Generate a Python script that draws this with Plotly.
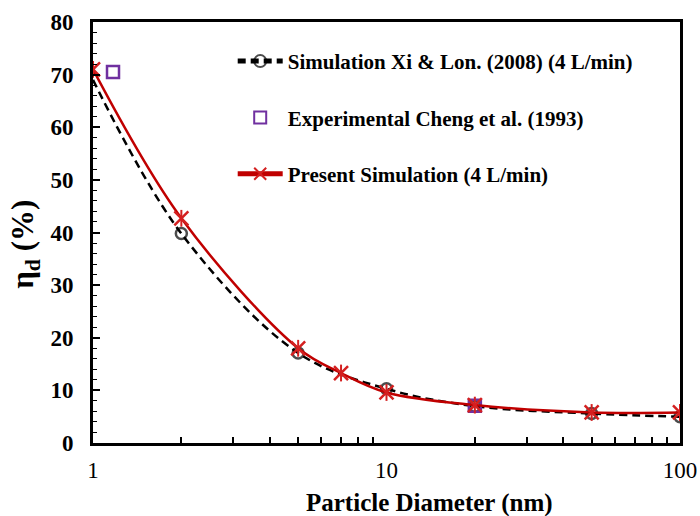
import plotly.graph_objects as go

# Particle diameters (nm) and deposition efficiencies (%)
xi_d = [1, 2, 5, 10, 20, 50, 100]
xi_eta = [69.0, 39.8, 17.1, 10.3, 7.0, 5.6, 5.0]

exp_d = [1.17, 20]
exp_eta = [70.5, 7.1]

present_d = [1, 2, 5, 7, 10, 20, 50, 100]
present_eta = [71.0, 42.7, 18.0, 13.3, 9.6, 7.2, 5.8, 5.8]

x_ticks = [1, 10, 100]
x_minor = [2, 3, 4, 5, 6, 7, 8, 9, 20, 30, 40, 50, 60, 70, 80, 90]

FONT = "Liberation Serif"
RED = "#D42020"

fig = go.Figure()

fig.add_trace(go.Scatter(
    x=xi_d, y=xi_eta, mode="lines+markers", line_shape="spline",
    name="<b>Simulation Xi & Lon. (2008) (4 L/min)</b>",
    line=dict(color="black", width=2.5, dash="8px,5px"),
    marker=dict(symbol="circle-open", size=[0, 11, 11, 11, 11, 11, 11],
                color="black", line=dict(width=2.5)),
    legendgroup="a",
))
fig.add_trace(go.Scatter(
    x=exp_d, y=exp_eta, mode="markers",
    name="<b>Experimental Cheng et al. (1993)</b>",
    marker=dict(symbol="square-open", size=12, color="#7030A0",
                line=dict(width=2.5)),
    legendgroup="b",
))
fig.add_trace(go.Scatter(
    x=present_d, y=present_eta, mode="lines+markers", line_shape="spline",
    name="<b>Present Simulation (4 L/min)</b>",
    line=dict(color="#C00000", width=2.5),
    marker=dict(symbol="x-thin-open", size=14, color=RED,
                line=dict(width=2.5, color=RED)),
    legendgroup="c",
))
# vertical strokes completing the star markers
fig.add_trace(go.Scatter(
    x=present_d, y=present_eta, mode="markers", showlegend=False,
    marker=dict(symbol="line-ns-open", size=12, color=RED,
                line=dict(width=2, color=RED)),
    hoverinfo="skip",
))

fig.update_layout(
    width=700, height=516,
    margin=dict(l=93, r=20, t=22, b=73),
    paper_bgcolor="white", plot_bgcolor="white",
    font=dict(family=FONT, size=18, color="black"),
    showlegend=True,
    legend=dict(x=0.238, y=0.955, xanchor="left", yanchor="top",
                bgcolor="rgba(0,0,0,0)", font=dict(size=21, family=FONT),
                tracegroupgap=26, itemwidth=45, itemsizing="constant"),
    annotations=[
        dict(text="<b>Particle Diameter (nm)</b>", xref="paper", yref="paper",
             x=0.574, y=-0.142, xanchor="center", yanchor="middle",
             showarrow=False, font=dict(size=25, family=FONT)),
        dict(text="<b>η<sub>d</sub> (%)</b>", xref="paper", yref="paper",
             x=-0.116, y=0.473, xanchor="center", yanchor="middle",
             textangle=-90, showarrow=False, font=dict(size=31, family=FONT)),
    ],
)
fig.update_xaxes(
    type="log", range=[0, 2], tickvals=x_ticks, ticktext=["1", "10", "100"],
    tickfont=dict(size=23, family=FONT), ticks="", ticklabelstandoff=4,
    tickprefix="<b>", ticksuffix="</b>", automargin=False,
    showline=True, linecolor="black", linewidth=3, mirror=True,
    showgrid=False, zeroline=False,
    minor=dict(tickvals=x_minor, ticks="inside", ticklen=6,
               tickcolor="black", tickwidth=1.5),
)
fig.update_yaxes(
    range=[0, 80], dtick=10, tickformat="d", ticks="inside", ticklen=7,
    tickwidth=1.5, tickcolor="black", ticklabelstandoff=12,
    tickfont=dict(size=23, family=FONT), automargin=False,
    tickprefix="<b>", ticksuffix="</b>",
    showline=True, linecolor="black", linewidth=3, mirror=True,
    showgrid=False, zeroline=False,
    minor=dict(dtick=2, ticks="inside", ticklen=4, tickcolor="black", tickwidth=1.2),
)

fig.write_html("out.html")
